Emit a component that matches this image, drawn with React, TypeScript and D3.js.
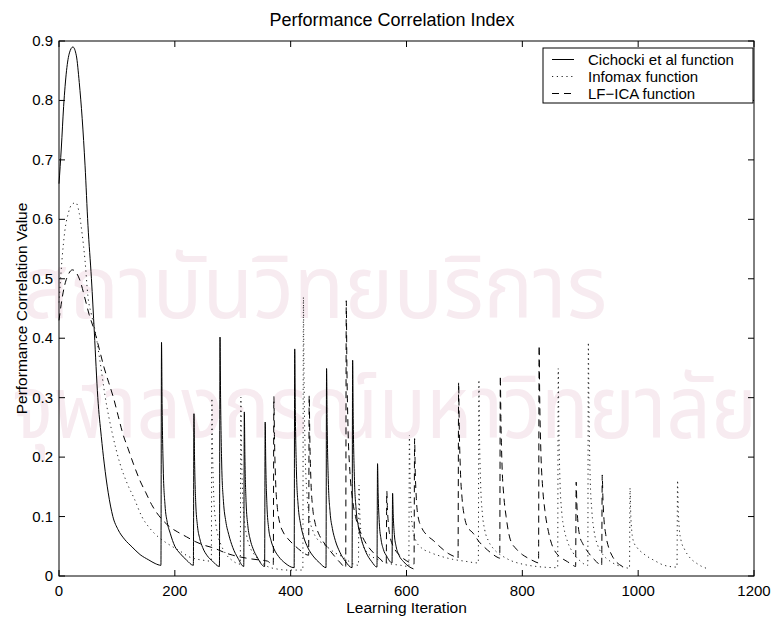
import React from "react";
import * as d3 from "d3";

const X_TICKS = [0, 200, 400, 600, 800, 1000, 1200];
const Y_TICKS = [0, 0.1, 0.2, 0.3, 0.4, 0.5, 0.6, 0.7, 0.8, 0.9];
const SERIES_NAMES = ["Cichocki et al function", "Infomax function", "LF\u2212ICA function"];
const WATERMARK_LINES = ["สถาบันวิทยบริการ", "จุฬาลงกรณ์มหาวิทยาลัย"];

// Cichocki et al (solid)
const cichockiPts: [number, number][] = [
  [0, .66], [4, .72], [8, .79], [13, .85], [18, .88], [24, .89], [30, .875], [35, .83], [40, .77], [45, .69],
  [50, .59], [56, .50], [61, .41], [67, .30], [73, .235], [78, .19], [85, .14], [93, .10], [102, .078], [113, .062],
  [126, .049], [140, .036], [155, .027], [166, .021], [176, .018],
  [177, .393], [178, .29], [180, .18], [183, .12], [187, .09], [192, .072], [200, .05], [209, .038], [220, .027], [232, .018],
  [233, .273], [234, .20], [236, .125], [239, .085], [243, .063], [248, .048], [256, .034], [265, .025], [277, .016],
  [278, .402], [279, .30], [281, .185], [284, .125], [288, .092], [293, .07], [300, .048], [309, .03], [319, .016],
  [320, .276], [321, .20], [323, .125], [326, .085], [330, .062], [335, .046], [342, .032], [355, .016],
  [356, .259], [357, .19], [359, .12], [362, .08], [366, .06], [371, .046], [379, .033], [390, .022], [406, .014],
  [407, .382], [408, .28], [410, .175], [413, .118], [417, .088], [422, .067], [430, .047], [440, .032], [450, .022], [461, .014],
  [462, .349], [463, .255], [465, .16], [468, .108], [472, .08], [477, .06], [485, .04], [495, .024], [506, .014],
  [507, .363], [508, .265], [510, .167], [513, .112], [517, .083], [522, .062], [530, .04], [540, .024], [549, .015],
  [550, .189], [551, .14], [553, .09], [556, .062], [560, .045], [566, .033], [575, .022],
  [576, .139], [577, .105], [579, .07], [582, .05], [587, .035], [595, .024], [604, .016], [612, .012],
];

// Infomax (dotted)
const infomaxPts: [number, number][] = [
  [0, .46], [5, .53], [10, .58], [16, .61], [22, .625], [29, .628], [35, .61], [40, .575], [45, .53], [50, .47],
  [56, .44], [63, .41], [71, .36], [80, .30], [92, .24], [105, .19], [118, .155], [130, .13], [143, .10], [157, .08],
  [171, .066], [185, .056], [200, .047], [212, .04], [223, .033], [235, .029], [246, .027], [263, .025],
  [264, .299], [265, .22], [267, .14], [270, .095], [274, .07], [280, .052], [288, .037], [298, .027], [313, .02],
  [314, .301], [315, .22], [317, .14], [320, .095], [324, .068], [330, .048], [338, .035], [348, .024], [360, .016], [375, .012], [395, .01], [421, .01],
  [422, .469], [423, .34], [425, .21], [428, .14], [432, .10], [438, .077], [446, .062], [455, .055], [463, .049], [475, .04], [490, .032], [505, .022], [517, .018],
  [518, .153], [519, .115], [521, .077], [524, .055], [530, .042], [540, .033], [555, .026], [570, .021], [590, .018], [604, .016],
  [605, .237], [606, .175], [608, .11], [611, .078], [616, .06], [625, .048], [640, .04], [660, .033], [680, .028], [700, .025], [724, .022],
  [725, .33], [726, .24], [728, .155], [731, .105], [735, .078], [742, .058], [752, .044], [765, .034], [780, .026], [800, .02], [825, .016], [861, .014],
  [862, .349], [863, .255], [865, .16], [868, .108], [872, .08], [878, .058], [887, .04], [898, .027], [913, .018],
  [914, .393], [915, .285], [917, .17], [920, .11], [924, .075], [930, .052], [939, .036], [950, .026], [962, .019], [975, .015], [985, .013],
  [986, .148], [987, .11], [989, .075], [992, .058], [998, .048], [1010, .037], [1030, .025], [1045, .018], [1067, .015],
  [1068, .161], [1069, .12], [1071, .08], [1074, .06], [1080, .045], [1090, .03], [1100, .022], [1110, .016], [1121, .012],
];

// LF-ICA (dashed)
const lficaPts: [number, number][] = [
  [0, .43], [5, .465], [10, .49], [16, .507], [23, .515], [30, .51], [37, .495], [44, .47], [52, .44], [62, .41],
  [70, .38], [78, .35], [86, .325], [94, .30], [102, .27], [110, .24], [119, .215], [128, .19], [140, .16], [150, .14],
  [160, .12], [169, .106], [180, .093], [192, .082], [205, .074], [220, .066], [235, .058], [250, .052], [264, .048],
  [275, .044], [287, .039], [300, .035], [313, .032], [330, .029], [346, .027], [360, .025], [370, .018],
  [371, .302], [372, .235], [374, .16], [377, .115], [381, .09], [387, .074], [395, .063], [405, .053], [418, .042], [431, .035],
  [432, .304], [433, .235], [435, .16], [438, .115], [442, .09], [448, .072], [456, .058], [466, .045], [476, .033], [486, .022], [495, .014],
  [496, .463], [497, .36], [499, .25], [502, .18], [506, .135], [512, .10], [520, .075], [530, .055], [542, .04], [554, .029], [565, .021],
  [566, .143], [567, .115], [569, .085], [572, .065], [577, .05], [585, .038], [595, .029], [605, .023], [613, .02],
  [614, .231], [615, .18], [617, .13], [620, .10], [626, .082], [636, .068], [646, .06], [658, .049], [672, .038], [682, .033], [689, .03],
  [690, .326], [691, .255], [693, .18], [696, .13], [700, .10], [704, .085], [715, .072], [725, .058], [735, .048], [747, .038], [758, .031], [761, .03],
  [762, .337], [763, .265], [765, .185], [768, .135], [772, .10], [779, .062], [790, .045], [800, .036], [810, .03], [820, .025], [828, .022],
  [829, .388], [830, .30], [832, .21], [835, .15], [839, .11], [845, .075], [852, .05], [859, .038], [868, .03], [878, .024], [886, .019], [892, .016],
  [893, .158], [894, .125], [896, .09], [899, .068], [904, .055], [910, .045], [920, .032], [928, .024], [937, .017],
  [938, .17], [939, .135], [941, .095], [944, .07], [949, .048], [955, .034], [962, .024], [968, .019], [975, .015],
];

const W = 774, H = 618;
const M = { left: 59, right: 754, top: 41, bottom: 576 };
const FONT = "'Liberation Sans', Arial, Helvetica, sans-serif";

export default function App() {
  const x = d3.scaleLinear().domain([0, 1200]).range([M.left, M.right]);
  const y = d3.scaleLinear().domain([0, 0.9]).range([M.bottom, M.top]);
  const line = d3.line<[number, number]>().x(d => x(d[0])).y(d => y(d[1])).curve(d3.curveMonotoneX);
  const tick = 6;
  const series = [
    { pts: cichockiPts, dash: undefined as string | undefined, color: "#000", width: 1 },
    { pts: infomaxPts, dash: "1.2 3.6", color: "#222", width: 1 },
    { pts: lficaPts, dash: "7 5", color: "#000", width: 1 },
  ];
  const legendX = 543, legendY = 48, legendW = 210, legendH = 55;
  return (
    <div style={{ position: "absolute", left: 0, top: 0 }}>
      <svg width={W} height={H} style={{ display: "block", background: "#fff" }} fontFamily={FONT}>
        <rect x={0} y={0} width={W} height={H} fill="#fff" />
        {/* faint scan watermark */}
        <g fill="#f7ebf0" fontFamily="'Noto Sans Thai', 'Noto Sans', sans-serif" fontSize={88}>
          <text x={22} y={318} textLength={585} lengthAdjust="spacingAndGlyphs">{WATERMARK_LINES[0]}</text>
          <text x={12} y={438} textLength={745} lengthAdjust="spacingAndGlyphs">{WATERMARK_LINES[1]}</text>
        </g>
        {/* axes box */}
        <rect x={M.left} y={M.top} width={M.right - M.left} height={M.bottom - M.top} fill="none" stroke="#000" strokeWidth={1} />
        {X_TICKS.map(t => (
          <g key={"xt" + t}>
            <line x1={x(t)} x2={x(t)} y1={M.bottom} y2={M.bottom - tick} stroke="#000" />
            <line x1={x(t)} x2={x(t)} y1={M.top} y2={M.top + tick} stroke="#000" />
            <text x={x(t)} y={596} fontSize={15} textAnchor="middle">{t}</text>
          </g>
        ))}
        {Y_TICKS.map(t => (
          <g key={"yt" + t}>
            <line x1={M.left} x2={M.left + tick} y1={y(t)} y2={y(t)} stroke="#000" />
            <line x1={M.right} x2={M.right - tick} y1={y(t)} y2={y(t)} stroke="#000" />
            <text x={53} y={y(t) + 5} fontSize={15} textAnchor="end">{t === 0 ? "0" : d3.format(".1f")(t)}</text>
          </g>
        ))}
        {series.map((s, i) => (
          <path key={i} d={line(s.pts) || ""} fill="none" stroke={s.color} strokeWidth={s.width}
            strokeDasharray={s.dash} />
        ))}
        <text x={392} y={26} fontSize={18} textAnchor="middle">Performance Correlation Index</text>
        <text x={(M.left + M.right) / 2} y={613} fontSize={15.5} textAnchor="middle">Learning Iteration</text>
        <text transform={`translate(27,${(M.top + M.bottom) / 2}) rotate(-90)`} fontSize={15.5} textAnchor="middle">Performance Correlation Value</text>
        {/* legend */}
        <rect x={legendX} y={legendY} width={legendW} height={legendH} fill="#fff" stroke="#000" strokeWidth={1} />
        {SERIES_NAMES.map((n, i) => {
          const ly = 59.5 + i * 17;
          return (
            <g key={n}>
              <line x1={552} x2={574} y1={ly} y2={ly} stroke={series[i].color} strokeDasharray={series[i].dash} />
              <text x={588} y={ly + 5} fontSize={15}>{n}</text>
            </g>
          );
        })}
      </svg>
    </div>
  );
}
